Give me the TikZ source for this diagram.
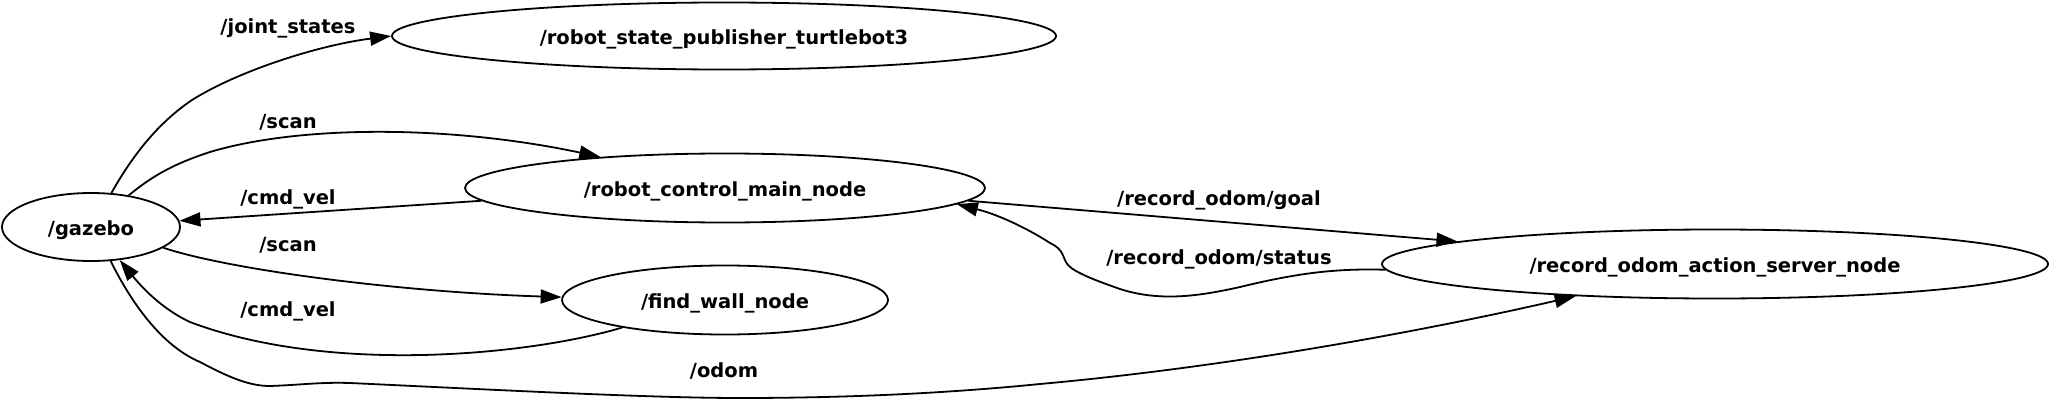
\documentclass[tikz,border=0pt]{standalone}
\usepackage{fontspec}
\setmainfont{DejaVu Sans}
\usetikzlibrary{shapes.geometric,arrows.meta}
\begin{document}
\begin{tikzpicture}[x=1pt,y=-1pt,
  every node/.style={font=\fontsize{19.5}{20}\selectfont\bfseries, text height=18pt, text depth=1pt, inner sep=0pt},
  rosnode/.style={ellipse, draw, line width=1.8pt},
  topic/.style={},
  edge/.style={line width=1.8pt, -{Triangle[length=21pt,width=14pt]}}]
\fill[white] (0,0) rectangle (2050,412);
\useasboundingbox (0,0) rectangle (2050,412);
% nodes
\node[rosnode, minimum width=178pt, minimum height=68pt] (gazebo) at (91,227) {/gazebo};
\node[rosnode, minimum width=664pt, minimum height=67pt] (rsp) at (724,36) {/robot\_state\_publisher\_turtlebot3};
\node[rosnode, minimum width=520pt, minimum height=69pt] (rcm) at (725,188) {/robot\_control\_main\_node};
\node[rosnode, minimum width=326pt, minimum height=69pt] (fw) at (725,300) {/find\_wall\_node};
\node[rosnode, minimum width=666pt, minimum height=69pt] (ros) at (1715,264) {/record\_odom\_action\_server\_node};
% labels
\node[topic] (ljs) at (288,25) {/joint\_states};
\node[topic] (lsc1) at (288,120) {/scan};
\node[topic] (lcv1) at (288,196) {/cmd\_vel};
\node[topic] (lsc2) at (288,243) {/scan};
\node[topic] (lcv2) at (288,308) {/cmd\_vel};
\node[topic] (lodom) at (724,369) {/odom};
\node[topic] (lgoal) at (1219,197) {/record\_odom/goal};
\node[topic] (lstat) at (1219,256) {/record\_odom/status};
% edges
\draw[edge] (gazebo.59) .. controls (130,160) and (155,125) .. (192,100)
  .. controls (240,70) and (320,45) .. (rsp.180);
\draw[edge] (gazebo.40) .. controls (150,178) and (170,165) .. (210,152)
  .. controls (300,125) and (450,125) .. (rcm.166);
\draw[edge] (rcm.183) -- (gazebo.4);
\draw[edge] (gazebo.-16) .. controls (230,270) and (400,292) .. (fw.179);
\draw[edge] (fw.195) .. controls (530,355) and (330,375) .. (190,322)
  .. controls (160,308) and (140,285) .. (gazebo.-49);
\draw[edge] (gazebo.-60) .. controls (130,300) and (160,345) .. (200,362)
  .. controls (230,378) and (250,386) .. (270,386)
  .. controls (300,385) and (320,382) .. (350,383)
  .. controls (500,390) and (650,398) .. (740,398)
  .. controls (850,398) and (950,393) .. (1040,384)
  .. controls (1250,365) and (1450,325) .. (ros.193);
\draw[edge] (rcm.-3) -- (ros.175);
\draw[edge] (ros.181) .. controls (1330,268) and (1290,275) .. (1240,287)
  .. controls (1200,296) and (1160,302) .. (1120,289)
  .. controls (1100,282) and (1075,273) .. (1068,265)
  .. controls (1062,258) and (1065,250) .. (1050,243)
  .. controls (1030,230) and (1000,215) .. (rcm.-4);
\end{tikzpicture}
\end{document}
